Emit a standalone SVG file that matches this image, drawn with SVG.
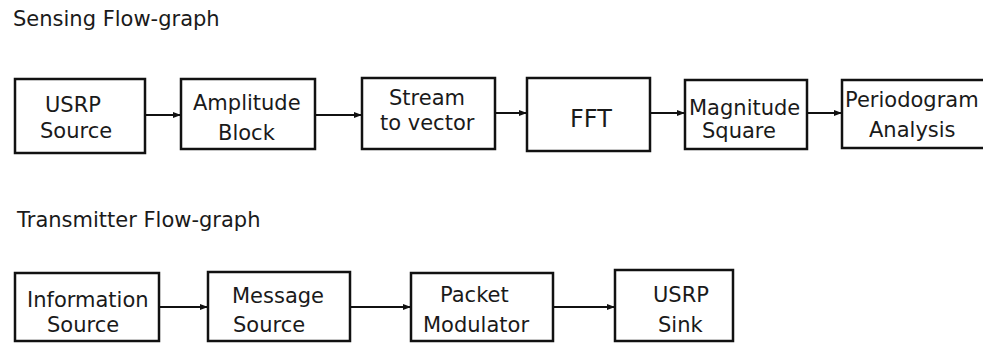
<svg xmlns="http://www.w3.org/2000/svg" width="983" height="343" viewBox="0 0 983 343">
<style>
.box{fill:#fff;stroke:#111;stroke-width:2.5}
text{font-family:"DejaVu Sans",sans-serif;font-size:21px;fill:#1a1a1a}
.c{stroke:#111;stroke-width:2;fill:none}
</style>
<defs>
<marker id="ah" viewBox="0 0 8 6" refX="8" refY="3" markerWidth="8" markerHeight="6" markerUnits="userSpaceOnUse" orient="auto">
<path d="M0,0 L8,3 L0,6 Z" fill="#111"/>
</marker>
</defs>
<rect width="983" height="343" fill="#fff"/>
<text x="13" y="26">Sensing Flow-graph</text>
<text x="17" y="227">Transmitter Flow-graph</text>
<g id="connectors">
<line class="c" x1="145" y1="115" x2="181" y2="115" marker-end="url(#ah)"/>
<line class="c" x1="315" y1="115" x2="362" y2="115" marker-end="url(#ah)"/>
<line class="c" x1="495" y1="113" x2="527" y2="113" marker-end="url(#ah)"/>
<line class="c" x1="650" y1="113" x2="685" y2="113" marker-end="url(#ah)"/>
<line class="c" x1="807" y1="113" x2="842" y2="113" marker-end="url(#ah)"/>
<line class="c" x1="159" y1="307" x2="208" y2="307" marker-end="url(#ah)"/>
<line class="c" x1="350" y1="307" x2="411" y2="307" marker-end="url(#ah)"/>
<line class="c" x1="553" y1="307" x2="615" y2="307" marker-end="url(#ah)"/>
</g>
<g id="usrp-source">
<rect class="box" x="15" y="79" width="130" height="74"/>
<text x="45" y="112">USRP</text>
<text x="40" y="138">Source</text>
</g>
<g id="amplitude-block">
<rect class="box" x="181" y="79" width="134" height="70"/>
<text x="193" y="110">Amplitude</text>
<text x="218" y="140">Block</text>
</g>
<g id="stream-to-vector">
<rect class="box" x="362" y="78" width="133" height="71"/>
<text x="389" y="105">Stream</text>
<text x="380" y="130">to vector</text>
</g>
<g id="fft">
<rect class="box" x="527" y="78" width="123" height="73"/>
<text x="570" y="127" style="font-size:24px">FFT</text>
</g>
<g id="magnitude-square">
<rect class="box" x="685" y="80" width="122" height="69"/>
<text x="689" y="115">Magnitude</text>
<text x="702" y="138">Square</text>
</g>
<g id="periodogram-analysis">
<rect class="box" x="842" y="80" width="145" height="68"/>
<text x="845" y="107">Periodogram</text>
<text x="869" y="137">Analysis</text>
</g>
<g id="information-source">
<rect class="box" x="15" y="273" width="144" height="68"/>
<text x="27" y="307">Information</text>
<text x="47" y="332">Source</text>
</g>
<g id="message-source">
<rect class="box" x="208" y="272" width="142" height="69"/>
<text x="232" y="303">Message</text>
<text x="233" y="332">Source</text>
</g>
<g id="packet-modulator">
<rect class="box" x="411" y="273" width="142" height="68"/>
<text x="440" y="302">Packet</text>
<text x="423" y="332">Modulator</text>
</g>
<g id="usrp-sink">
<rect class="box" x="615" y="270" width="118" height="71"/>
<text x="653" y="302">USRP</text>
<text x="658" y="332">Sink</text>
</g>
</svg>
